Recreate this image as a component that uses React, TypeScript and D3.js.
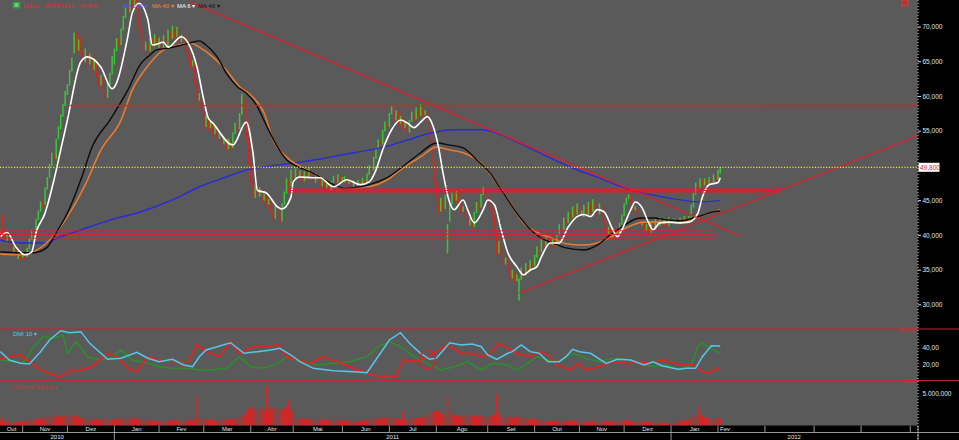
import React from 'react';
import * as d3 from 'd3';

type Bar = [number, number, number]; // open, close, volume (millions)
type Pt = [number, number]; // session number counted from the first bar, value

const WIDTH = 959;
const HEIGHT = 440;
const PLOT_RIGHT = 917.5;
const PRICE_BOTTOM = 326;
const AXIS_TOP = 425.5;
const FONT = '"Liberation Sans", Arial, sans-serif';

// exchange closed on these weekdays
const holidays = [
  '2010-11-02', '2010-11-15', '2010-12-24', '2010-12-31', '2011-01-25', '2011-03-07',
  '2011-03-08', '2011-04-21', '2011-04-22', '2011-06-23', '2011-09-07', '2011-10-12',
  '2011-11-02', '2011-11-15', '2011-12-30', '2012-01-25', '2012-05-01'
];

// daily bars
const oct2010: Bar[] = [
  [39.6, 40.6, 0.8], [43.0, 40.2, 1.3], [40.6, 39.2, 0.7], [39.0, 40.1, 0.6], [39.8, 38.3, 0.8],
  [38.6, 37.5, 0.6], [37.4, 38.4, 0.5], [38.0, 36.9, 0.7], [36.6, 37.8, 0.5], [37.7, 36.4, 0.7]
];
const nov2010: Bar[] = [
  [36.8, 37.6, 0.6], [37.3, 36.5, 0.7], [36.9, 38.2, 0.8], [38.0, 39.6, 0.9], [39.4, 40.8, 1.0],
  [40.9, 40.0, 0.8], [40.3, 42.4, 1.1], [42.2, 43.6, 1.0], [43.4, 44.9, 1.2], [45.0, 44.1, 0.9],
  [44.4, 46.9, 1.3], [46.6, 48.4, 1.2], [48.3, 50.3, 1.4], [50.0, 51.9, 1.5], [51.8, 50.8, 1.1],
  [51.0, 53.9, 1.6], [53.8, 55.7, 1.4], [55.3, 57.4, 1.5], [57.1, 58.9, 1.3], [58.6, 60.8, 1.6]
];
const dec2010: Bar[] = [
  [60.2, 61.8, 1.5], [61.6, 63.8, 1.6], [63.6, 65.6, 1.4], [66.2, 69.2, 1.7], [69.2, 66.4, 1.5],
  [66.6, 68.2, 1.3], [68.6, 66.2, 1.2], [66.4, 64.8, 1.1], [64.9, 66.9, 1.0], [66.5, 64.4, 1.0],
  [64.6, 66.2, 0.9], [65.9, 63.6, 1.1], [63.8, 65.4, 0.9], [65.0, 62.8, 1.0], [63.0, 61.5, 0.9],
  [61.6, 63.1, 0.8], [62.8, 60.4, 1.0], [60.6, 59.6, 1.1], [59.8, 61.8, 0.8], [61.6, 63.4, 0.9],
  [63.2, 65.8, 1.0]
];
const jan2011: Bar[] = [
  [64.6, 66.9, 1.0], [66.5, 68.4, 1.1], [68.6, 67.1, 0.9], [67.4, 69.8, 1.0], [69.5, 71.6, 1.2],
  [71.3, 72.8, 1.1], [73.0, 71.9, 0.9], [72.1, 74.4, 1.3], [74.0, 72.6, 1.0], [72.8, 75.0, 1.2],
  [74.6, 72.4, 1.1], [72.2, 69.8, 1.0], [70.2, 68.3, 0.9], [68.5, 66.4, 1.0], [66.6, 67.9, 0.8],
  [67.6, 66.2, 0.8], [66.5, 68.6, 0.9], [68.3, 66.9, 0.7], [67.2, 69.0, 0.8], [68.7, 67.3, 0.7]
];
const feb2011: Bar[] = [
  [67.0, 68.5, 0.7], [68.2, 66.6, 0.8], [66.8, 68.8, 0.7], [68.4, 67.0, 0.6], [67.2, 69.6, 0.8],
  [69.3, 68.1, 0.7], [68.3, 70.2, 0.9], [69.8, 68.4, 0.8], [68.6, 70.0, 0.8], [69.7, 67.6, 0.9],
  [67.8, 68.9, 0.7], [68.8, 67.8, 0.8], [68.6, 66.4, 0.9], [66.6, 65.2, 0.8], [65.4, 64.0, 0.9],
  [64.3, 65.2, 0.7], [64.8, 61.8, 1.1], [61.9, 59.2, 4.4], [59.4, 60.5, 1.2], [60.2, 57.4, 1.1]
];
const mar2011: Bar[] = [
  [57.6, 55.3, 1.0], [55.6, 57.3, 0.9], [57.0, 55.2, 1.0], [55.4, 56.6, 0.8], [56.3, 54.4, 0.9],
  [54.6, 55.8, 0.8], [55.5, 53.6, 0.9], [53.9, 55.0, 0.8], [54.6, 52.9, 1.0], [53.1, 54.2, 0.8],
  [53.9, 52.2, 0.9], [52.4, 53.9, 1.0], [53.6, 52.4, 0.9], [52.6, 54.8, 1.1], [54.6, 56.2, 1.2],
  [56.0, 55.1, 1.0], [55.3, 57.6, 1.4], [57.4, 60.4, 1.8], [59.8, 57.2, 1.6], [57.0, 53.8, 2.2],
  [53.9, 50.2, 2.6]
];
const apr2011: Bar[] = [
  [50.4, 47.6, 2.8], [47.8, 45.6, 2.9], [45.4, 47.2, 2.5], [47.0, 45.8, 2.3], [45.6, 46.9, 2.6],
  [46.6, 44.8, 2.8], [45.0, 46.0, 2.2], [45.8, 44.2, 6.2], [44.4, 45.2, 2.4], [45.0, 43.4, 3.0],
  [43.6, 42.2, 2.6], [42.4, 44.2, 2.8], [44.0, 42.6, 2.4], [42.8, 41.8, 2.6], [42.0, 44.6, 2.5],
  [44.4, 46.3, 2.7], [46.0, 48.2, 2.9], [48.0, 47.0, 3.9], [47.2, 49.4, 2.6]
];
const may2011: Bar[] = [
  [49.1, 48.0, 2.2], [48.2, 49.6, 1.3], [49.4, 48.1, 1.1], [48.3, 49.3, 1.0], [49.0, 47.6, 1.2],
  [47.8, 49.2, 1.0], [49.0, 48.0, 0.9], [48.2, 49.7, 1.1], [49.5, 48.4, 0.9], [48.6, 47.4, 1.0],
  [47.6, 49.0, 0.9], [48.8, 47.8, 0.8], [48.0, 46.9, 1.0], [47.1, 48.2, 0.9], [48.0, 46.6, 1.0],
  [46.8, 47.6, 0.8], [47.4, 46.3, 0.9], [46.5, 47.8, 0.8], [47.6, 48.6, 0.9], [48.4, 47.4, 0.8],
  [47.6, 48.8, 0.9], [48.5, 47.7, 0.8]
];
const jun2011: Bar[] = [
  [47.9, 48.4, 0.7], [47.6, 48.5, 0.8], [48.3, 47.2, 0.9], [47.4, 48.0, 0.7], [47.8, 46.7, 0.8],
  [46.9, 47.9, 0.7], [47.6, 46.6, 0.8], [46.8, 48.0, 0.7], [47.8, 47.0, 0.7], [47.2, 48.3, 0.8],
  [48.0, 47.3, 0.7], [47.5, 48.9, 0.9], [48.7, 50.1, 1.0], [49.8, 49.2, 0.9], [49.4, 51.3, 1.1],
  [51.0, 52.6, 1.2], [52.4, 53.8, 1.1], [53.6, 52.9, 1.0], [53.1, 55.2, 1.2], [55.0, 56.4, 1.3],
  [56.1, 55.4, 1.1]
];
const jul2011: Bar[] = [
  [55.6, 57.6, 1.3], [57.4, 58.6, 1.2], [58.3, 56.4, 1.1], [56.6, 58.0, 1.0], [57.8, 55.8, 1.1],
  [56.0, 57.2, 0.9], [57.0, 55.2, 2.2], [55.4, 56.4, 0.9], [56.2, 54.6, 1.0], [54.8, 56.6, 1.1],
  [56.4, 57.8, 1.2], [57.6, 56.5, 1.0], [56.7, 58.4, 1.2], [58.2, 57.0, 1.1], [57.2, 58.9, 1.3],
  [58.6, 57.1, 1.2], [57.3, 58.0, 1.4], [57.8, 56.2, 1.6], [56.0, 53.4, 2.0], [53.6, 50.4, 2.2],
  [50.6, 47.4, 2.3]
];
const aug2011: Bar[] = [
  [47.6, 45.2, 2.1], [45.0, 43.2, 2.4], [43.4, 45.4, 2.0], [45.2, 43.6, 1.8], [43.8, 45.8, 1.7],
  [37.4, 41.6, 4.4], [42.0, 44.6, 2.0], [44.4, 46.2, 1.8], [46.0, 44.8, 1.6], [45.0, 46.4, 1.5],
  [46.2, 44.4, 1.6], [44.6, 43.2, 1.5], [43.4, 44.2, 1.3], [44.0, 42.4, 1.5], [42.6, 41.2, 1.6],
  [41.4, 42.6, 1.4], [42.4, 41.0, 1.5], [41.2, 43.4, 1.6], [43.2, 44.8, 1.5], [44.6, 43.8, 1.3],
  [44.0, 46.0, 1.6], [45.8, 47.0, 1.5], [46.8, 45.4, 1.4]
];
const sep2011: Bar[] = [
  [45.6, 44.6, 1.3], [45.0, 43.6, 1.4], [43.8, 42.2, 1.5], [42.4, 40.4, 1.8], [40.6, 37.2, 5.0],
  [37.4, 39.2, 1.9], [39.0, 37.0, 1.6], [37.2, 35.6, 1.4], [35.8, 36.8, 1.2], [36.6, 34.8, 1.3],
  [35.0, 33.6, 1.4], [33.8, 35.0, 1.2], [34.8, 33.2, 1.3], [33.4, 34.4, 1.1], [30.6, 33.8, 1.5],
  [33.6, 35.4, 1.3], [35.2, 34.0, 1.1], [34.2, 36.0, 1.2], [35.8, 34.6, 1.0], [34.8, 36.4, 1.1],
  [36.2, 35.4, 0.9]
];
const oct2011: Bar[] = [
  [35.6, 37.2, 1.1], [36.8, 38.4, 0.9], [38.2, 37.4, 0.8], [37.6, 39.4, 0.9], [39.2, 38.2, 0.7],
  [38.4, 39.8, 0.8], [39.6, 39.0, 0.7], [39.6, 38.4, 0.7], [38.6, 39.6, 0.7], [39.4, 38.2, 0.8],
  [38.4, 40.2, 0.8], [40.0, 41.6, 0.9], [41.4, 40.6, 0.7], [40.8, 42.6, 0.9], [42.4, 41.6, 0.7],
  [41.8, 43.4, 0.8], [43.2, 42.4, 0.7], [42.6, 44.2, 0.8], [44.0, 42.8, 0.7], [43.0, 44.6, 0.8]
];
const nov2011: Bar[] = [
  [44.4, 42.6, 0.7], [42.8, 43.6, 0.6], [42.6, 44.4, 0.7], [44.2, 42.8, 0.6], [43.0, 44.8, 0.7],
  [44.6, 43.2, 0.6], [43.4, 45.2, 0.7], [45.0, 43.8, 0.6], [44.0, 42.8, 0.6], [43.0, 44.6, 0.6],
  [44.4, 42.2, 0.7], [42.4, 40.8, 0.8], [41.0, 40.0, 0.7], [40.2, 41.2, 0.6], [41.0, 39.4, 0.7],
  [39.6, 40.8, 0.6], [40.6, 39.6, 0.6], [39.8, 40.6, 0.7], [40.4, 41.8, 0.7], [41.6, 43.0, 0.8]
];
const dec2011: Bar[] = [
  [42.8, 44.6, 0.8], [44.4, 45.4, 0.9], [45.2, 45.9, 0.8], [45.6, 44.6, 0.7], [44.8, 43.4, 0.7],
  [43.6, 44.2, 0.6], [44.0, 42.2, 0.7], [42.4, 41.2, 0.7], [41.4, 42.0, 0.6], [41.8, 40.4, 0.7],
  [40.6, 41.6, 0.6], [41.4, 40.2, 0.6], [40.4, 42.0, 0.6], [41.8, 41.0, 0.5], [41.2, 42.4, 0.6],
  [42.2, 41.2, 0.5], [41.4, 42.6, 0.6], [42.4, 41.4, 0.5], [41.6, 42.4, 0.5], [42.2, 41.2, 0.2],
  [41.4, 42.6, 0.3]
];
const jan2012: Bar[] = [
  [42.4, 41.6, 0.3], [41.8, 42.4, 0.4], [41.6, 42.4, 0.7], [42.2, 41.4, 0.8], [41.6, 42.6, 0.8],
  [42.4, 41.6, 0.7], [41.8, 42.8, 0.8], [42.6, 41.8, 0.9], [41.8, 42.8, 1.0], [42.6, 44.4, 1.2],
  [44.0, 46.2, 1.4], [45.8, 47.6, 1.6], [47.4, 46.6, 3.1], [46.8, 48.2, 1.9], [48.0, 47.2, 1.5],
  [47.2, 48.2, 1.3], [48.0, 47.2, 1.1], [47.4, 48.4, 1.2], [48.2, 47.4, 1.0], [47.6, 48.8, 1.1],
  [48.6, 47.8, 1.0]
];
const feb2012: Bar[] = [[48.0, 49.4, 1.2], [48.9, 49.8, 1.1]];

// moving averages
const ma6: Pt[] = [
  [0, 39.8], [3, 40.4], [7, 38.3], [11, 37.2], [14, 37.6], [16, 40.4], [20, 43.2], [24, 48.0],
  [27, 52.3], [30, 56.6], [36, 65.0], [39, 65.7], [45, 64.2], [50, 61.1], [57, 68.6], [59, 72.0],
  [62, 73.4], [66, 71.0], [68, 67.4], [73, 67.8], [75, 67.1], [81, 68.6], [84, 67.7], [88, 64.2],
  [91, 59.5], [93, 56.9], [95, 56.2], [104, 53.0], [110, 56.3], [113, 51.9], [115, 46.5],
  [119, 46.1], [124, 44.1], [126, 43.8], [130, 45.5], [131, 47.7], [134, 48.4], [140, 48.3],
  [143, 48.3], [149, 47.0], [155, 48.0], [161, 47.3], [165, 47.7], [168, 49.4], [171, 52.3],
  [175, 55.2], [179, 56.6], [182, 56.2], [185, 55.5], [188, 56.3], [191, 57.1], [193, 56.2],
  [196, 52.7], [198, 49.0], [201, 44.7], [203, 43.7], [207, 45.1], [209, 43.7], [212, 41.8],
  [216, 43.7], [218, 45.1], [221, 44.4], [224, 40.8], [227, 37.5], [231, 35.5], [234, 34.3],
  [237, 35.0], [240, 35.5], [242, 36.9], [246, 38.9], [250, 38.9], [254, 41.2], [258, 42.7],
  [261, 43.0], [264, 42.7], [267, 43.7], [270, 43.4], [274, 40.8], [276, 39.8], [278, 40.8],
  [282, 43.7], [284, 44.8], [287, 44.0], [290, 41.8], [292, 40.8], [295, 41.8], [299, 41.9],
  [304, 41.8], [308, 41.9], [312, 43.2], [314, 45.5], [317, 47.3], [321, 47.6], [322, 48.3]
];
const ma40Black: Pt[] = [
  [0, 37.6], [9, 37.5], [15, 37.5], [21, 38.3], [25, 40.4], [30, 43.2], [36, 48.0], [41, 52.7],
  [49, 56.6], [57, 60.9], [63, 64.8], [66, 65.7], [70, 66.7], [76, 67.0], [81, 67.4], [86, 67.8],
  [89, 68.0], [92, 67.4], [97, 65.7], [101, 63.4], [106, 61.4], [110, 60.5], [115, 58.5],
  [118, 56.5], [124, 52.7], [128, 50.9], [133, 49.9], [139, 49.1], [143, 48.4], [149, 47.3],
  [154, 46.8], [161, 47.0], [165, 47.3], [173, 48.3], [180, 49.9], [188, 51.9], [195, 53.3],
  [201, 53.0], [207, 52.6], [213, 50.9], [219, 49.0], [225, 46.1], [231, 43.2], [236, 41.2],
  [241, 39.8], [247, 38.9], [253, 38.2], [261, 37.9], [267, 38.6], [273, 40.1], [278, 41.2],
  [286, 42.5], [292, 42.5], [299, 42.2], [305, 42.1], [310, 42.5], [314, 42.9], [319, 43.4],
  [322, 43.5]
];
const ma40Orange: Pt[] = [
  [0, 37.3], [9, 37.2], [22, 39.3], [30, 42.7], [38, 47.3], [45, 52.3], [54, 56.6], [59, 60.9],
  [67, 64.8], [73, 66.7], [80, 67.4], [85, 67.7], [89, 67.1], [95, 65.7], [101, 63.8], [107, 61.4],
  [112, 60.2], [118, 57.6], [122, 53.7], [128, 51.3], [137, 49.4], [143, 48.4], [149, 47.0],
  [158, 46.8], [165, 47.0], [173, 48.0], [180, 49.7], [188, 51.3], [195, 52.7], [201, 52.3],
  [207, 51.9], [215, 50.4], [222, 47.6], [228, 44.7], [234, 41.8], [240, 40.4], [247, 39.6],
  [253, 38.8], [261, 38.6], [267, 38.9], [273, 39.8], [280, 41.1], [288, 41.9], [295, 41.9],
  [303, 41.8], [309, 42.2], [314, 42.9], [322, 43.7]
];
const ma200: Pt[] = [
  [0, 39.3], [9, 38.9], [19, 38.9], [27, 39.8], [36, 40.8], [49, 42.2], [63, 43.4], [77, 45.1],
  [89, 47.0], [101, 48.4], [110, 49.4], [119, 49.9], [131, 50.4], [143, 51.0], [158, 51.9],
  [170, 52.6], [182, 53.7], [192, 54.7], [203, 55.2], [215, 55.2], [222, 54.7], [232, 53.3],
  [245, 51.3], [256, 49.7], [270, 48.0], [282, 46.5], [292, 45.8], [304, 45.1], [313, 44.8],
  [322, 45.0]
];

// DMI 10
const adx: Pt[] = [
  [0, 33.6], [4, 23.9], [9, 20.0], [13, 19.2], [18, 33.6], [22, 47.2], [27, 58.0], [31, 55.7],
  [36, 56.9], [40, 43.3], [45, 31.7], [48, 24.7], [54, 25.9], [61, 32.9], [66, 25.9], [71, 21.9],
  [77, 24.7], [82, 18.1], [86, 16.1], [89, 27.7], [92, 35.5], [97, 39.4], [103, 44.0], [109, 31.7],
  [115, 33.6], [121, 35.5], [125, 37.5], [130, 29.7], [134, 21.9], [140, 14.2], [149, 11.4],
  [158, 10.3], [164, 9.1], [170, 31.7], [174, 47.2], [179, 55.7], [183, 43.3], [188, 31.7],
  [192, 24.7], [195, 25.9], [201, 44.0], [206, 41.4], [211, 42.5], [215, 39.6], [218, 29.7],
  [222, 24.7], [227, 31.7], [229, 33.6], [233, 41.4], [237, 33.6], [241, 31.7], [245, 21.9],
  [250, 21.9], [253, 27.7], [256, 36.3], [259, 33.6], [264, 31.7], [271, 20.0], [276, 24.7],
  [282, 23.9], [288, 18.1], [292, 21.9], [296, 17.2], [303, 13.0], [307, 14.2], [311, 14.2],
  [314, 27.7], [318, 40.5], [322, 40.2]
];
const diPlus: Pt[] = [
  [0, 23.9], [6, 21.9], [10, 20.0], [15, 39.4], [19, 51.0], [24, 49.2], [28, 53.0], [30, 31.7],
  [34, 45.2], [39, 27.7], [45, 23.9], [49, 25.9], [54, 35.5], [59, 23.9], [66, 20.0], [71, 16.1],
  [77, 14.2], [84, 14.2], [89, 12.2], [95, 12.2], [101, 14.2], [107, 27.7], [112, 16.1],
  [118, 14.2], [124, 20.0], [128, 27.7], [134, 21.9], [142, 18.1], [149, 20.0], [156, 21.9],
  [164, 27.7], [169, 39.4], [174, 45.2], [179, 39.4], [185, 27.7], [191, 20.0], [197, 12.2],
  [203, 16.1], [209, 21.9], [215, 12.2], [220, 20.0], [227, 18.1], [231, 12.2], [236, 20.0],
  [240, 27.7], [245, 23.9], [250, 21.9], [256, 31.7], [262, 25.9], [268, 21.9], [274, 25.9],
  [280, 24.7], [286, 20.0], [292, 16.1], [298, 18.1], [304, 12.2], [309, 18.1], [312, 40.2],
  [314, 43.3], [319, 35.5], [322, 31.7]
];
const diMinus: Pt[] = [
  [0, 25.9], [4, 27.7], [9, 29.7], [13, 21.9], [18, 12.2], [22, 8.4], [27, 4.4], [30, 10.3],
  [36, 12.2], [41, 16.1], [48, 31.7], [52, 27.7], [57, 14.2], [61, 10.3], [66, 27.7], [71, 23.9],
  [77, 21.9], [84, 21.9], [88, 41.4], [92, 33.6], [98, 27.7], [103, 45.2], [107, 31.7],
  [113, 39.4], [119, 39.4], [124, 41.4], [128, 27.7], [133, 23.9], [139, 20.0], [144, 27.7],
  [151, 21.9], [156, 16.1], [164, 8.4], [170, 4.4], [177, 4.4], [180, 23.9], [186, 21.9],
  [191, 27.7], [195, 33.6], [200, 41.4], [206, 31.7], [211, 31.7], [215, 27.7], [219, 31.7],
  [223, 43.3], [227, 37.5], [231, 31.7], [237, 27.7], [241, 33.6], [245, 29.7], [249, 18.1],
  [255, 12.2], [258, 20.0], [262, 12.2], [268, 16.1], [274, 21.9], [280, 20.0], [286, 21.9],
  [291, 20.0], [296, 23.9], [304, 18.1], [310, 18.1], [314, 10.3], [317, 8.4], [320, 14.2],
  [322, 12.2]
];

const priceTicks = [30, 35, 40, 45, 50, 55, 60, 65, 70];
const dmiTicks = [20, 40];
const dmiLevels = [60, 0];
const volumeTicks = [5e6];
const lastPrice = 49.8;
const monthNames = ['Jan', 'Fev', 'Mar', 'Abr', 'Mai', 'Jun', 'Jul', 'Ago', 'Set', 'Out', 'Nov', 'Dez'];

// drawings on the price panel: [date, price]
const resistance: [string, number] = ['2010-12-02', 58.7];
const trendDown: [string, number][] = [['2011-02-21', 73.6], ['2012-02-15', 39.9]];
const trendUp: [string, number][] = [['2011-09-22', 31.7], ['2012-06-06', 54.3]];
const zones = [
  { from: '2010-10-18', to: '2012-01-30', top: 40.65, bottom: 40.15 },
  { from: '2010-10-18', to: '2012-01-30', top: 40.15, bottom: 39.6 },
  { from: '2011-04-28', to: '2012-03-09', top: 46.8, bottom: 46.45 },
  { from: '2011-04-28', to: '2012-03-09', top: 46.45, bottom: 46.1 }
];
const dmiMark = { date: '2011-07-26', value: 24, halfDays: 3.6, halfValue: 10.5 };

const legend = [
  { label: 'MA 200 ▾', color: '#5656ff', x: 123 },
  { label: 'MA 40 ▾', color: '#f0883a', x: 152 },
  { label: 'MA 6 ▾', color: '#ffffff', x: 177 },
  { label: 'MA 40 ▾', color: '#111111', x: 198 }
];

const br = d3.formatLocale({ decimal: ',', thousands: '.', grouping: [3], currency: ['R$ ', ''] });
const fmtPrice = br.format('.3f');
const fmtDmi = br.format('.2f');
const fmtVol = br.format(',d');
const dayKey = d3.timeFormat('%Y-%m-%d');

const App: React.FC = () => {
  const off = new Set(holidays);
  const sessions = d3.timeDay
    .range(new Date(2010, 9, 18), new Date(2012, 6, 1))
    .filter(d => d.getDay() !== 0 && d.getDay() !== 6 && !off.has(dayKey(d)));
  const keys = sessions.map(dayKey);
  const at = (date: string) => keys.indexOf(date);

  const bars: Bar[] = [
    oct2010, nov2010, dec2010, jan2011, feb2011, mar2011, apr2011, may2011, jun2011,
    jul2011, aug2011, sep2011, oct2011, nov2011, dec2011, jan2012, feb2012
  ].flat();
  const lastBar = bars.length - 1;

  const x = d3.scaleLinear().domain([0, 410]).range([0.34, 0.34 + 410 * 2.2357]);
  const y = d3.scaleLinear().domain([30, 70]).range([304.8, 27]);
  const yDmi = d3.scaleLinear().domain([0, 60]).range([380.5, 329]);
  const yVol = d3.scaleLinear().domain([0, 5e6]).range([AXIS_TOP, 393.5]);

  const priceLine = d3.line<Pt>().x(d => x(d[0])).y(d => y(d[1])).curve(d3.curveMonotoneX);
  const dmiLine = d3.line<Pt>().x(d => x(d[0])).y(d => yDmi(d[1]));

  // the last price box hides the tick labels under it
  const shownPriceTicks = priceTicks.filter(v => Math.abs(y(v) - y(lastPrice)) > 8);

  // month / year segments
  const starts = [0];
  sessions.forEach((d, i) => {
    if (i > 0 && d.getMonth() !== sessions[i - 1].getMonth()) starts.push(i);
  });
  const months = starts.map((s, k) => ({ s, e: k + 1 < starts.length ? starts[k + 1] : sessions.length, date: sessions[s] }));
  const yearStarts = starts.filter(s => s > 0 && sessions[s].getMonth() === 0);
  const yearBounds = [0, ...yearStarts.map(s => x(s)), PLOT_RIGHT];

  const green = '#36c936';
  const red = '#d82323';
  const trendRed = '#d8232c';

  return (
    <div style={{ position: 'fixed', left: 0, top: 0, width: WIDTH, height: HEIGHT }}>
      <svg width={WIDTH} height={HEIGHT} style={{ display: 'block' }} fontFamily={FONT}>
        <defs>
          <clipPath id="pricePanel">
            <rect x={0} y={0} width={PLOT_RIGHT} height={PRICE_BOTTOM} />
          </clipPath>
          <clipPath id="lowerPanels">
            <rect x={0} y={PRICE_BOTTOM} width={PLOT_RIGHT} height={AXIS_TOP - PRICE_BOTTOM} />
          </clipPath>
        </defs>
        <rect x={0} y={0} width={WIDTH} height={HEIGHT} fill="#000" />
        <rect x={0} y={0} width={PLOT_RIGHT} height={AXIS_TOP} fill="#5a5a5a" />

        <g clipPath="url(#pricePanel)">
          {bars.map((b, i) => {
            const hi = Math.max(b[0], b[1]);
            const lo = Math.min(b[0], b[1]);
            return (
              <rect key={i} x={x(i) - 0.75} width={1.5} y={y(hi)}
                height={Math.max(1, y(lo) - y(hi))} fill={b[1] >= b[0] ? green : red} />
            );
          })}
          <path d={priceLine(ma200) || ''} fill="none" stroke="#2a2ad8" strokeWidth={1.4} />
          <path d={priceLine(ma40Orange) || ''} fill="none" stroke="#e87a32" strokeWidth={1.6} />
          <path d={priceLine(ma40Black) || ''} fill="none" stroke="#0c0c0c" strokeWidth={1.4} />
          <path d={priceLine(ma6) || ''} fill="none" stroke="#ffffff" strokeWidth={1.6} />

          {zones.map((z, i) => (
            <rect key={i} x={x(at(z.from))} y={y(z.top)} width={x(at(z.to)) - x(at(z.from))}
              height={y(z.bottom) - y(z.top)} fill="none" stroke={trendRed} strokeWidth={1} opacity={0.85} />
          ))}
          <line x1={x(at(resistance[0]))} x2={PLOT_RIGHT} y1={y(resistance[1])} y2={y(resistance[1])}
            stroke={trendRed} strokeWidth={1.6} opacity={0.85} />
          <line x1={x(at(trendDown[0][0]))} y1={y(trendDown[0][1])} x2={x(at(trendDown[1][0]))} y2={y(trendDown[1][1])}
            stroke={trendRed} strokeWidth={1.8} opacity={0.8} />
          <line x1={x(at(trendUp[0][0]))} y1={y(trendUp[0][1])} x2={x(at(trendUp[1][0]))} y2={y(trendUp[1][1])}
            stroke={trendRed} strokeWidth={1.8} opacity={0.8} />
          <line x1={0} x2={PLOT_RIGHT} y1={y(lastPrice)} y2={y(lastPrice)} stroke="#e8e830"
            strokeWidth={1.2} strokeDasharray="1.2 1.6" />
        </g>

        {/* DMI and volume panels */}
        <g clipPath="url(#lowerPanels)">
          <path d={dmiLine(diPlus) || ''} fill="none" stroke="#2c8f2c" strokeWidth={1.5} />
          <path d={dmiLine(diMinus) || ''} fill="none" stroke="#e02424" strokeWidth={1.8} />
          <path d={dmiLine(adx) || ''} fill="none" stroke="#56c6ea" strokeWidth={1.5} />
          <ellipse cx={x(at(dmiMark.date))} cy={yDmi(dmiMark.value)}
            rx={x(dmiMark.halfDays) - x(0)} ry={yDmi(0) - yDmi(dmiMark.halfValue)}
            fill="none" stroke={trendRed} strokeWidth={1.4} />
          {bars.map((b, i) => (
            <rect key={i} x={x(i) - 0.8} width={1.6} y={yVol(b[2] * 1e6)}
              height={AXIS_TOP - yVol(b[2] * 1e6)} fill="#d42626" />
          ))}
        </g>
        {dmiLevels.map(v => (
          <line key={v} x1={0} x2={WIDTH} y1={yDmi(v)} y2={yDmi(v)} stroke="#c4262e" strokeWidth={1} />
        ))}
        {dmiLevels.map(v => (
          <text key={v} x={PLOT_RIGHT - 3} y={yDmi(v) + 2.5} textAnchor="end" fontSize={6} fill="#d83030">
            {fmtDmi(v)}
          </text>
        ))}
        <text x={13} y={336} fontSize={6} fill="#56c6ea">DMI 10 ▾</text>
        <text x={13} y={389} fontSize={6} fill="#d83030">Volume Títulos ▾</text>

        {/* header */}
        <rect x={12.5} y={1.5} width={8} height={7} rx={1.5} fill="#2f9e3a" />
        <line x1={14.5} x2={18.5} y1={4} y2={4} stroke="#dff" strokeWidth={0.8} />
        <line x1={14.5} x2={18.5} y1={6} y2={6} stroke="#dff" strokeWidth={0.8} />
        <text x={23} y={7.5} fontSize={6} fill="#e03030">Diário · 02/02/2012 · 49,800</text>
        {legend.map((l, i) => (
          <text key={i} x={l.x} y={7.5} fontSize={6} fill={l.color}>{l.label}</text>
        ))}
        <rect x={902} y={0} width={6} height={6} fill="#b83232" stroke="#d84a4a" strokeWidth={0.6} />

        {/* right axis */}
        <line x1={918} x2={918} y1={0} y2={HEIGHT} stroke="#d8d8d8" strokeWidth={1} strokeDasharray="1 2" />
        {priceTicks.map(v => (
          <line key={v} x1={918} x2={921} y1={y(v)} y2={y(v)} stroke="#d8d8d8" />
        ))}
        {shownPriceTicks.map(v => (
          <text key={v} x={922.5} y={y(v)} dy="0.35em" fontSize={6.5} fill="#e4e4e4">{fmtPrice(v)}</text>
        ))}
        <rect x={918.5} y={y(lastPrice) - 4.5} width={21} height={9} fill="#ffffff" />
        <text x={920} y={y(lastPrice)} dy="0.35em" fontSize={6.5} fill="#d42a2a">{fmtPrice(lastPrice)}</text>
        {dmiTicks.map(v => (
          <text key={v} x={922.5} y={yDmi(v) + 1.5} dy="0.35em" fontSize={6.5} fill="#e4e4e4">{fmtDmi(v)}</text>
        ))}
        {volumeTicks.map(v => (
          <text key={v} x={922.5} y={yVol(v)} dy="0.35em" fontSize={6.5} fill="#e4e4e4">{fmtVol(v)}</text>
        ))}

        {/* time axis */}
        <line x1={0} x2={WIDTH} y1={432.5} y2={432.5} stroke="#bdbdbd" strokeWidth={0.8} />
        {months.filter(m => m.s > 0 && x(m.s) < PLOT_RIGHT).map(m => (
          <line key={m.s} x1={x(m.s)} x2={x(m.s)} y1={AXIS_TOP}
            y2={m.date.getMonth() === 0 ? HEIGHT : 432.5} stroke="#bdbdbd" strokeWidth={0.8} />
        ))}
        <line x1={PLOT_RIGHT + 0.5} x2={PLOT_RIGHT + 0.5} y1={AXIS_TOP} y2={HEIGHT} stroke="#bdbdbd" strokeWidth={0.8} />
        {months.filter(m => m.s <= lastBar).map(m => {
          const x0 = Math.max(0, x(m.s));
          const x1 = Math.min(x(m.e), x(lastBar) + 12);
          return (
            <text key={m.s} x={(x0 + x1) / 2} y={431.2} textAnchor="middle" fontSize={6} fill="#e4e4e4">
              {monthNames[m.date.getMonth()]}
            </text>
          );
        })}
        {yearBounds.slice(0, -1).map((b, k) => (
          <text key={k} x={(b + yearBounds[k + 1]) / 2} y={438.6} textAnchor="middle" fontSize={6} fill="#e4e4e4">
            {2010 + k}
          </text>
        ))}
      </svg>
    </div>
  );
};

export default App;
